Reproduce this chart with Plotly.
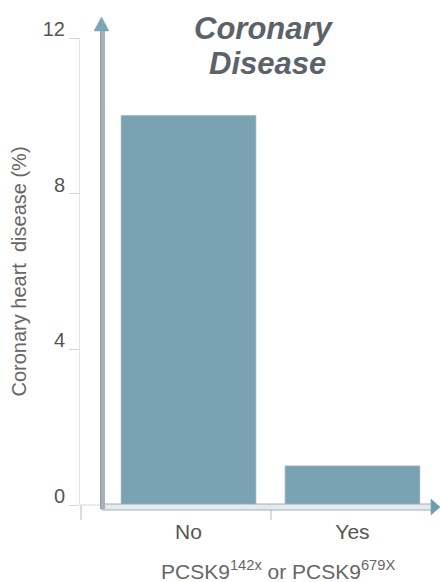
import plotly.graph_objects as go

categories = ["No", "Yes"]
values = [10.0, 1.0]
ytick_vals = [0, 4, 8, 12]

W, H = 440, 582
L, R, T, B = 80, 0, 38, 77
PW, PH = W - L - R, H - T - B

def px(x):
    return (x - L) / PW

def py(y):
    return (H - B - y) / PH

fig = go.Figure()
fig.add_trace(go.Bar(
    x=categories, y=values, width=0.82,
    marker=dict(color="#79a2b2", line=dict(color="#93a7b0", width=1)),
))

shapes = []
shapes.append(dict(type="line", xref="paper", yref="paper", x0=px(80), x1=px(102), y0=py(505), y1=py(505),
                   line=dict(color="#d9d9d9", width=1)))
for xx, y0 in [(81, 505), (271, 509)]:
    shapes.append(dict(type="line", xref="paper", yref="paper", x0=px(xx), x1=px(xx), y0=py(y0), y1=py(520),
                       line=dict(color="#d0d0d0", width=1.5)))
shapes.append(dict(type="rect", xref="paper", yref="paper", x0=px(102), x1=px(432), y0=py(504), y1=py(510),
                   fillcolor="#e3e9ec", line=dict(color="#9fb0b8", width=1)))
shapes.append(dict(type="line", xref="paper", yref="paper", x0=px(102.5), x1=px(102.5), y0=py(509), y1=py(30),
                   line=dict(color="#a9b1b6", width=5)))
shapes.append(dict(type="line", xref="paper", yref="paper", x0=px(100.5), x1=px(100.5), y0=py(509), y1=py(30),
                   line=dict(color="#939ca1", width=1)))

def tri(pts, color):
    d = "M " + " L ".join(f"{px(a)},{py(b)}" for a, b in pts) + " Z"
    return dict(type="path", xref="paper", yref="paper", path=d, fillcolor=color, line=dict(color=color, width=0.5))

shapes.append(tri([(101.5, 17), (94, 31), (109, 31)], "#7aa6b6"))
shapes.append(tri([(440, 507), (431, 499), (431, 515)], "#6f9db0"))

title_font = dict(family="Liberation Sans, Arial, sans-serif", size=31, color="#5b6269")

fig.update_layout(
    width=W, height=H,
    margin=dict(l=L, r=R, t=T, b=B),
    plot_bgcolor="white", paper_bgcolor="white",
    showlegend=False,
    bargap=0.18,
    font=dict(family="Liberation Sans, Arial, sans-serif", color="#555"),
    xaxis=dict(
        range=[-0.662, 1.534], showline=False, showgrid=False, zeroline=False,
        ticks="", tickfont=dict(size=21, color="#555"), ticklabelstandoff=12,
    ),
    yaxis=dict(
        range=[0, 12], tickvals=ytick_vals, showgrid=False, zeroline=False,
        showline=True, linecolor="#e2e2e2", linewidth=1,
        ticks="outside", ticklen=10, tickcolor="#d5d5d5", tickwidth=1,
        tickfont=dict(size=20, color="#555"), ticklabelshift=-9,
        title=dict(text="Coronary heart\u00a0 disease (%)", font=dict(size=20, color="#666"), standoff=10),
    ),
    shapes=shapes,
    annotations=[
        dict(text="<b><i>Coronary</i></b>", xref="paper", yref="paper",
             x=px(264), y=py(28), xanchor="center", yanchor="middle", showarrow=False, font=title_font),
        dict(text="<b><i>Disease</i></b>", xref="paper", yref="paper",
             x=px(267), y=py(64), xanchor="center", yanchor="middle", showarrow=False, font=title_font),
        dict(text="PCSK9<sup>142x</sup> or PCSK9<sup>679X</sup>", xref="paper", yref="paper",
             x=px(278), y=py(570), xanchor="center", yanchor="middle", showarrow=False,
             font=dict(size=21, color="#666")),
    ],
)

fig.write_html("out.html")
